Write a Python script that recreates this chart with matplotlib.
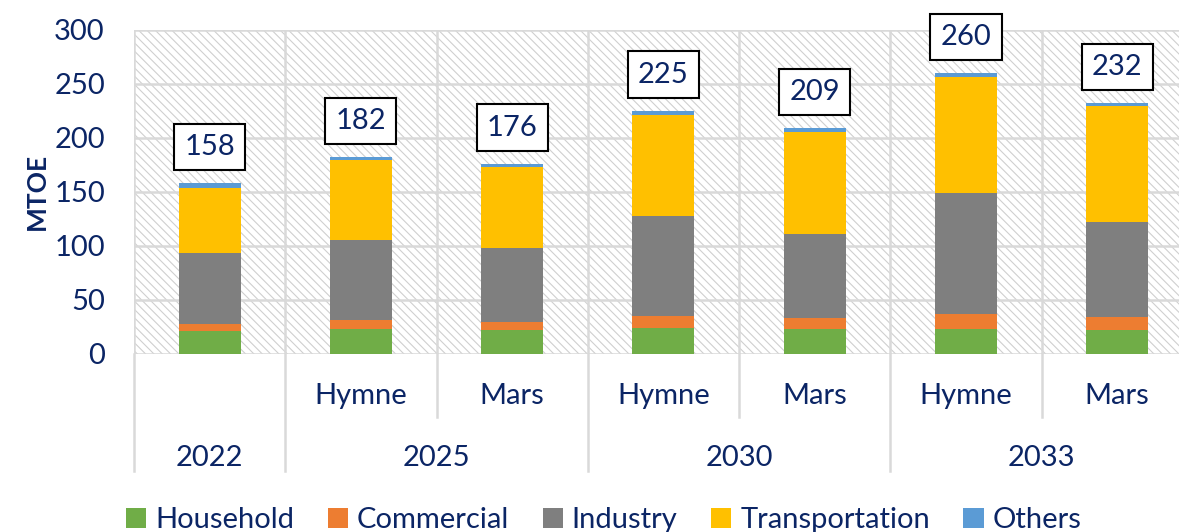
import matplotlib
matplotlib.use("Agg")
import matplotlib.pyplot as plt
from matplotlib.patches import Rectangle
import numpy as np

plt.rcParams["font.family"] = ["Lato", "DejaVu Sans"]
plt.rcParams["hatch.linewidth"] = 0.8

# data
scenarios = ["", "Hymne", "Mars", "Hymne", "Mars", "Hymne", "Mars"]
years = ["2022", "2025", "2030", "2033"]
year_spans = [(0, 0), (1, 2), (3, 4), (5, 6)]
totals = [158, 182, 176, 225, 209, 260, 232]

household = [21, 23, 22, 24, 23, 23, 22]
commercial = [7, 8, 8, 11, 10, 14, 12]
industry = [65, 74, 68, 93, 78, 112, 88]
transportation = [61, 74, 75, 93, 94, 107, 107]
others = [4, 3, 3, 4, 4, 4, 3]

series = [
    ("Household", household, "#70ad47"),
    ("Commercial", commercial, "#ed7d31"),
    ("Industry", industry, "#7f7f7f"),
    ("Transportation", transportation, "#ffc000"),
    ("Others", others, "#5b9bd5"),
]

NAVY = "#0b2565"
GRID = "#d9d9d9"

fig = plt.figure(figsize=(11.79, 5.32), dpi=100)
ax = fig.add_axes([0.1137, 0.3346, 0.898, 0.6096])

x = np.arange(len(scenarios))
ax.set_xlim(-0.5, len(scenarios) - 0.5)
ax.set_ylim(0, 300)

# hatched plot-area background
ax.add_patch(Rectangle((0, 0), 1, 1, transform=ax.transAxes, facecolor="white",
                       edgecolor="#cfcfcf", hatch="\\\\\\\\", lw=0, zorder=0))

bottom = np.zeros(len(x))
for name, vals, color in series:
    ax.bar(x, vals, 0.41, bottom=bottom, color=color, label=name, zorder=3)
    bottom += np.array(vals)

for xi, top, tot in zip(x, bottom, totals):
    ax.annotate(str(tot), (xi, top), xytext=(0, 26), textcoords="offset points",
                ha="center", va="center", fontsize=21, color=NAVY, zorder=5,
                bbox=dict(boxstyle="square,pad=0.35", facecolor="white",
                          edgecolor="black", lw=1.5))

# gridlines
for yv in range(0, 301, 50):
    ax.axhline(yv, color=GRID, lw=1.8, zorder=1)
for b in np.arange(-0.5, len(x) + 0.5, 1):
    ax.axvline(b, color=GRID, lw=1.8, zorder=1)

ax.set_yticks(range(0, 301, 50))
ax.tick_params(axis="y", length=0, labelsize=21, labelcolor=NAVY, pad=21)
ax.set_xticks([])
for s in ax.spines.values():
    s.set_visible(False)
ax.set_ylabel("MTOE", fontsize=19, fontweight="bold", color=NAVY, labelpad=4)

# two-level category axis
trans = ax.get_xaxis_transform()
for xi, lab in zip(x, scenarios):
    ax.text(xi, -0.13, lab, transform=trans, ha="center", va="center",
            fontsize=21, color=NAVY)
for (a, b), yr in zip(year_spans, years):
    ax.text((a + b) / 2, -0.32, yr, transform=trans, ha="center", va="center",
            fontsize=21, color=NAVY)
year_edges = {-0.5} | {b + 0.5 for _, b in year_spans}
for bnd in np.arange(-0.5, len(x) + 0.5, 1):
    low = -0.36 if bnd in year_edges else -0.195
    ax.plot([bnd, bnd], [0, low], transform=trans, color=GRID, lw=1.8,
            clip_on=False, zorder=1)

fig.legend(loc="center", bbox_to_anchor=(0.512, 0.022), ncol=5, frameon=False,
           fontsize=21, labelcolor=NAVY, handlelength=0.7, handleheight=0.7,
           handletextpad=0.3, columnspacing=1.15)

fig.savefig("out.png", dpi=100)
